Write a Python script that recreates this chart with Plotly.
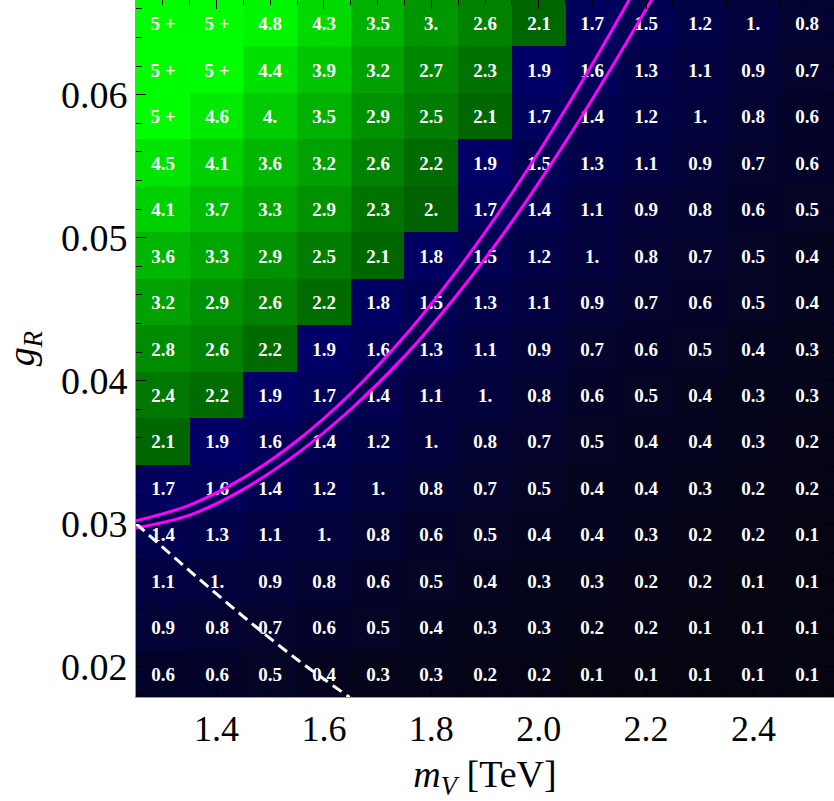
import plotly.graph_objs as go

# m_V grid (TeV), cell centres
m_v = [1.3, 1.4, 1.5, 1.6, 1.7, 1.8, 1.9, 2.0, 2.1, 2.2, 2.3, 2.4, 2.5]
# g_R grid, cell centres, bottom -> top
g_r = [0.0195, 0.02275, 0.026, 0.02925, 0.0325, 0.03575, 0.039, 0.04225,
       0.0455, 0.04875, 0.052, 0.05525, 0.0585, 0.06175, 0.065]

# cell labels as printed, top row first
labels_top_down = [
    ["5 +", "5 +", "4.8", "4.3", "3.5", "3.", "2.6", "2.1", "1.7", "1.5", "1.2", "1.", "0.8"],
    ["5 +", "5 +", "4.4", "3.9", "3.2", "2.7", "2.3", "1.9", "1.6", "1.3", "1.1", "0.9", "0.7"],
    ["5 +", "4.6", "4.", "3.5", "2.9", "2.5", "2.1", "1.7", "1.4", "1.2", "1.", "0.8", "0.6"],
    ["4.5", "4.1", "3.6", "3.2", "2.6", "2.2", "1.9", "1.5", "1.3", "1.1", "0.9", "0.7", "0.6"],
    ["4.1", "3.7", "3.3", "2.9", "2.3", "2.", "1.7", "1.4", "1.1", "0.9", "0.8", "0.6", "0.5"],
    ["3.6", "3.3", "2.9", "2.5", "2.1", "1.8", "1.5", "1.2", "1.", "0.8", "0.7", "0.5", "0.4"],
    ["3.2", "2.9", "2.6", "2.2", "1.8", "1.5", "1.3", "1.1", "0.9", "0.7", "0.6", "0.5", "0.4"],
    ["2.8", "2.6", "2.2", "1.9", "1.6", "1.3", "1.1", "0.9", "0.7", "0.6", "0.5", "0.4", "0.3"],
    ["2.4", "2.2", "1.9", "1.7", "1.4", "1.1", "1.", "0.8", "0.6", "0.5", "0.4", "0.3", "0.3"],
    ["2.1", "1.9", "1.6", "1.4", "1.2", "1.", "0.8", "0.7", "0.5", "0.4", "0.4", "0.3", "0.2"],
    ["1.7", "1.6", "1.4", "1.2", "1.", "0.8", "0.7", "0.5", "0.4", "0.4", "0.3", "0.2", "0.2"],
    ["1.4", "1.3", "1.1", "1.", "0.8", "0.6", "0.5", "0.4", "0.4", "0.3", "0.2", "0.2", "0.1"],
    ["1.1", "1.", "0.9", "0.8", "0.6", "0.5", "0.4", "0.3", "0.3", "0.2", "0.2", "0.1", "0.1"],
    ["0.9", "0.8", "0.7", "0.6", "0.5", "0.4", "0.3", "0.3", "0.2", "0.2", "0.1", "0.1", "0.1"],
    ["0.6", "0.6", "0.5", "0.4", "0.3", "0.3", "0.2", "0.2", "0.1", "0.1", "0.1", "0.1", "0.1"],
]

# magenta bounds
upper_m = [1.25, 1.35, 1.45, 1.55, 1.65, 1.75, 1.85, 1.95, 2.05, 2.15, 2.20]
upper_g = [0.0302, 0.0313, 0.0332, 0.0358, 0.0391, 0.0431, 0.0478, 0.0531, 0.0590, 0.0654, 0.0688]
lower_m = [1.25, 1.35, 1.45, 1.55, 1.65, 1.75, 1.85, 1.95, 2.05, 2.15, 2.25]
lower_g = [0.0297, 0.0306, 0.0324, 0.0349, 0.0380, 0.0417, 0.0461, 0.0511, 0.0567, 0.0628, 0.0692]
# white dashed line
dash_m = [1.25, 1.35, 1.45, 1.55, 1.65]
dash_g = [0.0300, 0.0267, 0.0235, 0.0205, 0.0178]

labels = labels_top_down[::-1]
z = [[float(s.replace("+", "").strip()) for s in row] for row in labels]

# blue below 2, green from 2 upward (brighter = bigger)
cscale = [[0.0, "#05050c"], [0.399, "#00006c"], [0.4, "#006200"], [1.0, "#00ff00"]]

serif = "Liberation Serif"

heat = go.Heatmap(x=m_v, y=g_r, z=z, text=labels, texttemplate="%{text}",
                  textfont=dict(family=serif, size=19, color="white", weight="bold"),
                  colorscale=cscale, zmin=0, zmax=5, showscale=False, hoverinfo="skip")

line_upper = go.Scatter(x=upper_m, y=upper_g, mode="lines",
                        line=dict(color="#ff00ff", width=3, shape="spline", smoothing=1),
                        showlegend=False, hoverinfo="skip")
line_lower = go.Scatter(x=lower_m, y=lower_g, mode="lines",
                        line=dict(color="#ff00ff", width=3, shape="spline", smoothing=1),
                        showlegend=False, hoverinfo="skip")
line_dash = go.Scatter(x=dash_m, y=dash_g, mode="lines",
                       line=dict(color="white", width=3, dash="11px,6px", shape="spline", smoothing=1),
                       showlegend=False, hoverinfo="skip")

fig = go.Figure([heat, line_upper, line_lower, line_dash])

fig.update_xaxes(range=[1.25, 2.55], tick0=1.4, dtick=0.2, tickformat=".1f",
                 ticks="inside", ticklen=9, tickwidth=1, tickcolor="black",
                 minor=dict(tick0=1.4, dtick=0.05, ticks="inside", ticklen=5, tickcolor="black"),
                 showline=True, linecolor="#999999", linewidth=1, mirror="ticks",
                 showgrid=False, zeroline=False,
                 tickfont=dict(family=serif, size=36, color="black"),
                 title=dict(text="<i>m</i><sub><i>V</i></sub> [TeV]",
                            font=dict(family=serif, size=38, color="black")))
fig.update_yaxes(range=[0.017875, 0.066625], tick0=0.02, dtick=0.01, tickformat=".2f",
                 ticks="inside", ticklen=10, tickwidth=1, tickcolor="black",
                 minor=dict(tick0=0.02, dtick=0.002, ticks="inside", ticklen=6, tickcolor="black"),
                 showline=True, linecolor="#999999", linewidth=1, mirror="ticks",
                 showgrid=False, zeroline=False,
                 tickfont=dict(family=serif, size=38, color="black"),
                 title=dict(text="<i>g</i><sub><i>R</i></sub>",
                            font=dict(family=serif, size=38, color="black")))

fig.update_layout(width=834, height=801, margin=dict(l=136, r=0, t=0, b=104, pad=0),
                  paper_bgcolor="white", plot_bgcolor="black", showlegend=False)

# page body has a default 8px margin; drop it so the figure sits at the corner
fig.write_html("out.html", config={"displayModeBar": False},
               post_script="document.body.style.margin='0px';")
